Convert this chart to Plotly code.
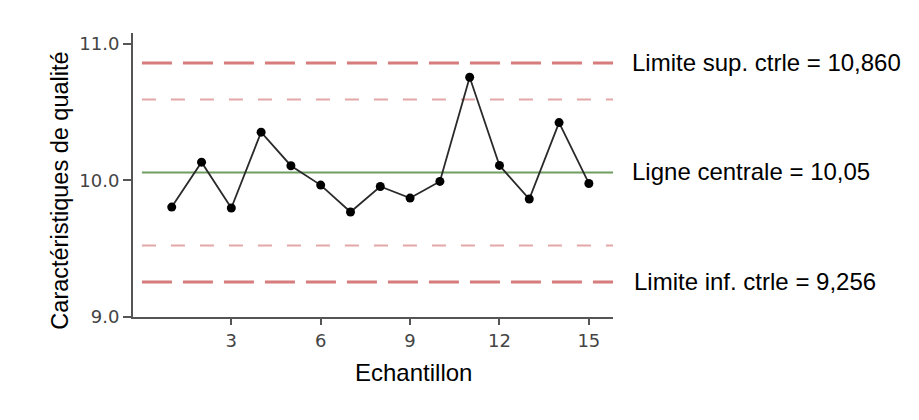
import plotly.graph_objects as go

samples = list(range(1, 16))
values = [9.805, 10.134, 9.798, 10.354, 10.108, 9.966, 9.769, 9.956, 9.871,
          9.993, 10.756, 10.110, 9.864, 10.424, 9.978]

ucl = 10.860
center = 10.058
lcl = 9.256
upper_warn = 10.593
lower_warn = 9.523

x_ticks = [3, 6, 9, 12, 15]
y_ticks = [9.0, 10.0, 11.0]
y_tick_text = ["9.0", "10.0", "11.0"]

label_ucl = "Limite sup. ctrle = 10,860"
label_center = "Ligne centrale = 10,05"
label_lcl = "Limite inf. ctrle = 9,256"
x_title = "Echantillon"
y_title = "Caractéristiques de qualité"

fig = go.Figure()

fig.add_trace(go.Scatter(
    x=samples, y=values, mode="lines+markers",
    line=dict(color="#2a2a2a", width=1.8),
    marker=dict(color="#000000", size=9),
    showlegend=False, hoverinfo="x+y",
))

def hline(y, color, width, dash):
    fig.add_shape(type="line", xref="x", yref="y", x0=0, x1=16, y0=y, y1=y,
                  line=dict(color=color, width=width, dash=dash), layer="below")

hline(ucl, "#d67c7c", 3, "30px,11px")
hline(lcl, "#d67c7c", 3, "30px,11px")
hline(upper_warn, "#e3a7a7", 2, "14px,15px")
hline(lower_warn, "#e3a7a7", 2, "14px,15px")
hline(center, "#6e9e60", 2, "solid")

lab_font = dict(family="Liberation Sans, Arial, sans-serif", size=24, color="#000000")
for y, txt, xs in [(ucl, label_ucl, 1.035), (center, label_center, 1.035), (lcl, label_lcl, 1.04)]:
    fig.add_annotation(x=xs, xref="paper", y=y, yref="y", text=txt, showarrow=False,
                       xanchor="left", yanchor="middle", font=lab_font, yshift=1)

fig.add_annotation(x=0.585, xref="paper", y=-0.195, yref="paper", text=x_title,
                   showarrow=False, xanchor="center", yanchor="middle",
                   font=dict(family="Liberation Sans, Arial, sans-serif", size=24, color="#000000"))
fig.add_annotation(x=-0.152, xref="paper", y=0.445, yref="paper", text=y_title,
                   showarrow=False, xanchor="center", yanchor="middle", textangle=-90,
                   font=dict(family="Liberation Sans, Arial, sans-serif", size=23.5, color="#000000"))

tick_font = dict(family="DejaVu Sans, sans-serif", size=18, color="#444444")

fig.update_xaxes(range=[-0.30, 15.81], tickvals=x_ticks, ticks="outside", ticklen=6,
                 tickwidth=2, tickcolor="#555555", showline=True, linecolor="#555555",
                 linewidth=2, showgrid=False, zeroline=False, tickfont=tick_font)
fig.update_yaxes(range=[9.0, 11.08], tickvals=y_ticks, ticktext=y_tick_text, ticks="outside",
                 ticklen=8, tickwidth=2, tickcolor="#555555", showline=True,
                 linecolor="#555555", linewidth=2, showgrid=False, zeroline=False,
                 tickfont=tick_font)

fig.update_layout(
    width=919, height=420,
    margin=dict(l=125, r=314, t=25, b=111),
    plot_bgcolor="white", paper_bgcolor="white",
    showlegend=False,
)

fig.write_html("out.html")
